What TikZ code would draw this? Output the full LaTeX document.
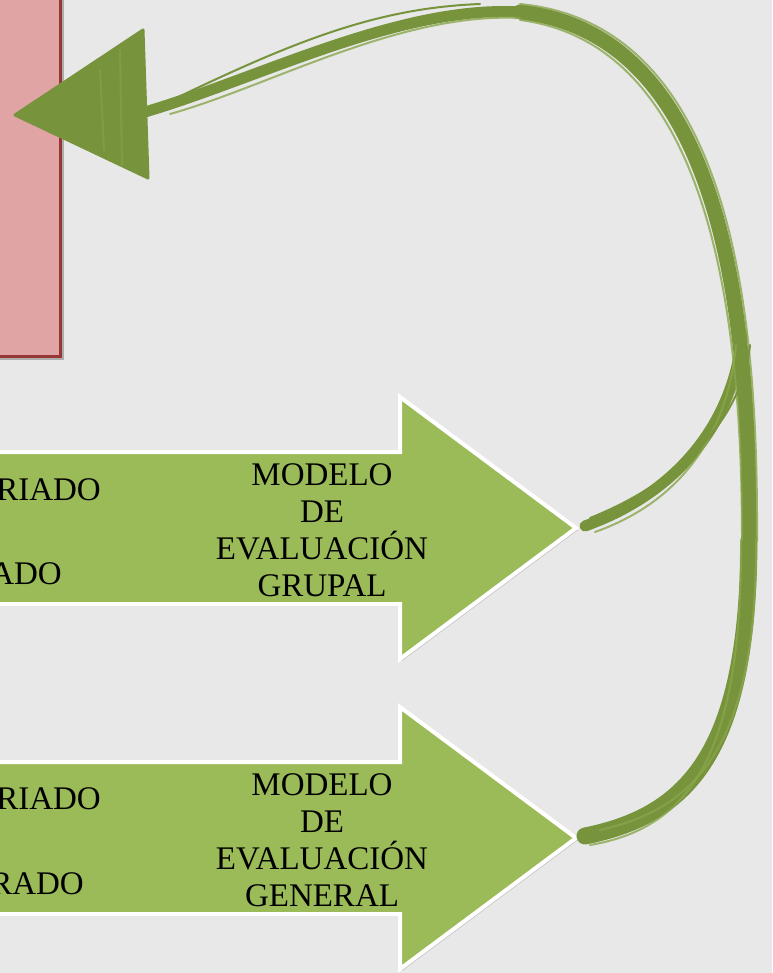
\documentclass[tikz,border=0pt]{standalone}
\usepackage{fontspec}
\setmainfont{Liberation Serif}
\usetikzlibrary{shadows}
\definecolor{bgc}{HTML}{E8E8E8}
\definecolor{pinkfill}{HTML}{E0A4A4}
\definecolor{pinkedge}{HTML}{953735}
\definecolor{arrowfill}{HTML}{9BBB59}
\definecolor{brush}{HTML}{77933C}
\definecolor{brushlight}{HTML}{8AA64C}
\tikzset{
  pinkbox/.style={draw=pinkedge, line width=3pt, fill=pinkfill, inner sep=0pt,
    drop shadow={shadow xshift=3pt, shadow yshift=-3pt, opacity=0.25, fill=black}},
  blockarrow/.style={fill=arrowfill, draw=white, line width=4pt, line join=miter,
    drop shadow={shadow xshift=2pt, shadow yshift=-2pt, opacity=0.15, fill=black}},
  arrowtext/.style={font=\fontsize{33}{37}\selectfont, align=center, inner sep=0pt, text=black},
  sidetext/.style={font=\fontsize{33}{37}\selectfont, inner sep=0pt, anchor=base east, text=black},
  brushstroke/.style={draw=brush, line cap=round, line join=round},
  brushhair/.style={draw=brushlight, line cap=round, line width=2pt, opacity=0.8},
}
\begin{document}
\begin{tikzpicture}[x=1pt,y=-1pt]
\useasboundingbox (0,0) rectangle (772,973);
\clip (0,0) rectangle (772,973);
\fill[bgc] (0,0) rectangle (772,973);

% pink box (cut by the left and top edges)
\node[pinkbox, anchor=south east, minimum width=100pt, minimum height=400pt] (box) at (62,358) {};

% block arrow 1
\path[blockarrow] (-10,452) -- (400,452) -- (400,397) -- (576,528) -- (400,659) -- (400,604) -- (-10,604) -- cycle;
\coordinate (tip1) at (585,526);
\node[arrowtext] (t1) at (322,530) {MODELO\\DE\\EVALUACIÓN\\GRUPAL};
\node[sidetext] (l1a) at (101,500) {RIADO};
\node[sidetext] (l1b) at (62,584) {ADO};

% block arrow 2
\path[blockarrow] (-10,762) -- (400,762) -- (400,707) -- (576,838) -- (400,969) -- (400,914) -- (-10,914) -- cycle;
\coordinate (tip2) at (585,836);
\node[arrowtext] (t2) at (322,840) {MODELO\\DE\\EVALUACIÓN\\GENERAL};
\node[sidetext] (l2a) at (101,809) {RIADO};
\node[sidetext] (l2b) at (84,894) {RADO};

% brush connector
\coordinate (r1) at (749,540);
\coordinate (topc) at (520,12);
\coordinate (merge) at (742,335);
\coordinate (headback) at (145,112);
\coordinate (headtip) at (15,115);

\draw[brushstroke, line width=17pt] (tip2) .. controls (690,815) and (748,750) .. (r1);
\draw[brushstroke, line width=15pt] (r1) .. controls (750,320) and (725,35) .. (topc);
\draw[brushstroke, line width=11pt] (topc) .. controls (400,5) and (260,78) .. (headback);
\draw[brushstroke, line width=11pt] (tip1) .. controls (680,492) and (734,420) .. (merge);

% brush hairs for texture
\draw[brushhair] (600,830) .. controls (700,808) and (757,740) .. (756,540);
\draw[brushhair] (590,845) .. controls (690,828) and (742,755) .. (741,540);
\draw[brushhair] (742,540) .. controls (742,330) and (715,45) .. (520,20);
\draw[brushhair] (757,540) .. controls (758,320) and (735,25) .. (520,4);
\draw[brushhair] (520,18) .. controls (400,12) and (270,86) .. (170,114);
\draw[brushhair] (595,532) .. controls (685,500) and (728,430) .. (736,345);
\draw[brushstroke, line width=2pt] (590,518) .. controls (680,482) and (742,420) .. (750,345);
\draw[brushstroke, line width=2pt] (480,4) .. controls (380,8) and (300,38) .. (168,102);

% arrowhead of the connector
\fill[brush] (headtip) -- (143,30) -- (148,178) -- cycle;
\draw[brushstroke, line width=3pt] (headtip) -- (143,30) -- (148,178) -- cycle;
\draw[brushhair, opacity=0.5] (120,50) -- (122,165);
\draw[brushhair, opacity=0.5] (100,70) -- (104,150);
\end{tikzpicture}
\end{document}
